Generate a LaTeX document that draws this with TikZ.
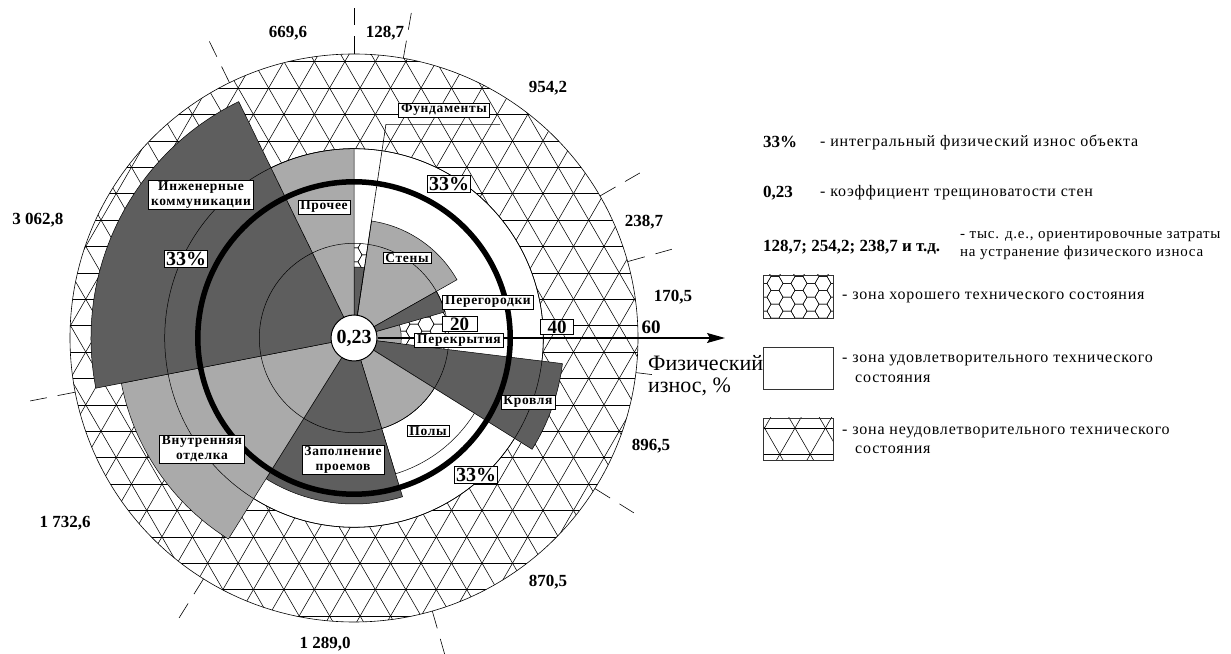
\documentclass[tikz,border=0pt]{standalone}
\usepackage{fontspec}
\setmainfont{Liberation Serif}
\usetikzlibrary{arrows.meta}
\definecolor{darkfill}{RGB}{94,94,94}
\definecolor{lightfill}{RGB}{170,170,170}
\newcommand{\lblfont}{\fontsize{13.5}{15}\selectfont\bfseries\addfontfeature{LetterSpace=5}}
\newcommand{\costfont}{\fontsize{17}{18}\selectfont\bfseries}
\newcommand{\legfont}{\fontsize{16}{18}\selectfont\addfontfeature{LetterSpace=5}}
\newcommand{\legsfont}{\fontsize{15}{18}\selectfont\addfontfeature{LetterSpace=5}}
\newcommand{\legbfont}{\fontsize{17}{18}\selectfont\bfseries}
\newcommand{\pctfont}{\fontsize{20}{22}\selectfont\bfseries}
\newcommand{\axnumfont}{\fontsize{19}{20}\selectfont\bfseries}
\newcommand{\axfont}{\fontsize{22}{22}\selectfont}
\newcommand{\drawsector}[4]{%
  \filldraw[sect, fill=#1] (0,0) -- (#2:#4) arc[start angle=#2, end angle=#3, radius=#4] -- cycle;}
\newcommand{\hexgrid}[4]{%
  \foreach \i in {#1,...,#2}{\foreach \j in {#3,...,#4}{%
    \pgfmathsetmacro\hx{12*\i}\pgfmathsetmacro\hy{13.856*(\j+0.5*mod(\i,2))}%
    \draw[hexline,shift={(\hx,\hy)}] (8,0)--(4,6.928)--(-4,6.928)--(-8,0)--(-4,-6.928)--(4,-6.928)--cycle;}}}
\newcommand{\trihatch}[5]{%
  \foreach \t in {0,60,120}{\begin{scope}[shift={(#1,#2)},rotate=\t]
    \foreach \k in {#3,...,#4}{\draw[hatchline] (-#5,\k*26.4) -- (#5,\k*26.4);}
  \end{scope}}}
\tikzset{
  lbl/.style={draw, fill=white, line width=0.6pt, inner xsep=2.5pt, inner ysep=1pt, font=\lblfont, align=center},
  pct/.style={draw, fill=white, line width=0.8pt, inner sep=1.5pt, font=\pctfont},
  axbox/.style={draw, fill=white, line width=0.7pt, inner sep=0pt, minimum height=15pt, font=\axnumfont},
  cost/.style={font=\costfont, inner sep=0pt},
  sect/.style={draw=black, line width=0.5pt},
  hatchline/.style={line width=0.55pt, black},
  hexline/.style={line width=0.45pt, black},
  tickline/.style={line width=0.6pt, dash pattern=on 18pt off 11pt on 17pt off 200pt},
  gridc/.style={line width=0.5pt},
  legtext/.style={anchor=west, inner sep=0pt, font=\legfont, align=left},
  legnum/.style={anchor=west, inner sep=0pt, font=\legbfont},
  legbox/.style={line width=0.8pt, draw=black!80}
}
\begin{document}
\begin{tikzpicture}[x=1pt,y=1pt]
\useasboundingbox (0,0) rectangle (1231,653);
\fill[white] (0,0) rectangle (1231,653);
\begin{scope}[shift={(354,315)}]
  % zones
  \fill[white] (0,0) circle[radius=284];
  \begin{scope}
    \clip (0,0) circle[radius=284];
    \trihatch{189}{-14}{-19}{19}{520}
  \end{scope}
  \draw[line width=0.6pt] (0,0) circle[radius=284];
  \filldraw[fill=white, line width=0.6pt] (0,0) circle[radius=189.3];
  \begin{scope}
    \clip (0,0) circle[radius=94.7];
    \hexgrid{-9}{9}{-8}{8}
  \end{scope}
  % sectors
  \drawsector{darkfill}{81.5}{90}{71}
  \drawsector{lightfill}{29.5}{81.5}{118.3}
  \drawsector{darkfill}{16}{29.5}{94.7}
  \drawsector{lightfill}{-7}{16}{47.3}
  \drawsector{darkfill}{-32}{-7}{210}
  \drawsector{white}{-73}{-32}{142}
  \drawsector{lightfill}{-73}{-32}{94.7}
  \drawsector{darkfill}{-122}{-73}{166}
  \drawsector{lightfill}{-169}{-122}{237}
  \drawsector{darkfill}{116}{191}{263}
  \drawsector{lightfill}{90}{116}{189.3}
  % grid circles
  \draw[gridc] (0,0) circle[radius=94.7];
  \draw[gridc] (0,0) circle[radius=189.3];
  \draw[line width=5.5pt] (0,0) circle[radius=156.2];
  % ticks
  \foreach \a in {80,90,116,191,238,286,328,15.6,30}{\draw[tickline] (\a:284) -- (\a:332);}
  \draw[line width=0.6pt] (353:284) -- (353:300);
  % centre and axis
  \node[circle, draw, fill=white, line width=1pt, minimum size=46pt, inner sep=0pt, font=\pctfont] (c) at (0,0) {0,23};
  \coordinate (axend) at (371,0);
  \draw[line width=1.2pt, -{Stealth[length=18pt,width=10pt,inset=3pt]}] (c.east) -- (axend);
  % foundation leader
  \coordinate (fa) at (81.5:216);
  \coordinate (fe) at (146,0);
  \draw[line width=0.6pt] (c) -- (fa) -- (fa -| fe);
\end{scope}
% sector labels
\node[lbl] (fund) at (444,543) {Фундаменты};
\node[lbl] (sten) at (407,395) {Стены};
\node[lbl] (pereg) at (488,351) {Перегородки};
\node[lbl] (perekr) at (459,312.5) {Перекрытия};
\node[axbox, minimum width=35pt] (a20) at (459.5,328.8) {20};
\node[axbox, minimum width=33pt] (a40) at (557,326) {40};
\node[inner sep=0pt, font=\axnumfont] (a60) at (651,326) {60};
\node[lbl] (krov) at (528,251) {Кровля};
\node[lbl] (poly) at (428,222) {Полы};
\node[lbl] (zapol) at (343,193) {Заполнение\\проемов};
\node[lbl] (vnutr) at (202,204) {Внутренняя\\отделка};
\node[lbl] (inzh) at (201,458) {Инженерные\\коммуникации};
\node[lbl] (proch) at (324,446) {Прочее};
\node[pct] (p1) at (186,394) {33\%};
\node[pct] (p2) at (449,469) {33\%};
\node[pct] (p3) at (476,178) {33\%};
\node[anchor=west, inner sep=0pt, font=\axfont, align=left] (axlab) at (648,277) {Физический\\износ, \%};
% cost labels
\node[cost] (k1) at (288,620) {669,6};
\node[cost] (k2) at (385,620) {128,7};
\node[cost] (k3) at (548,565) {954,2};
\node[cost] (k4) at (644,431) {238,7};
\node[cost] (k5) at (673,356) {170,5};
\node[cost] (k6) at (651,207) {896,5};
\node[cost] (k7) at (548,71) {870,5};
\node[cost] (k8) at (325,9) {1 289,0};
\node[cost] (k9) at (65,130) {1 732,6};
\node[cost] (k10) at (38,433) {3 062,8};
% legend
\node[legnum] (ln1) at (763,511) {33\%};
\node[legtext] (lt1) at (820,511) {- интегральный физический износ объекта};
\node[legnum] (ln2) at (763,460) {0,23};
\node[legtext] (lt2) at (820,460) {- коэффициент трещиноватости стен};
\node[legnum] (ln3) at (763,406) {128,7; 254,2; 238,7 и т.д.};
\node[legtext, font=\legsfont] (lt3) at (960,407) {- тыс. д.е., ориентировочные затраты\\на устранение физического износа};
\begin{scope}[shift={(763,335)}]
  \begin{scope}
    \clip (0,0) rectangle (70,43);
    \hexgrid{0}{6}{-1}{3}
  \end{scope}
  \draw[legbox] (0,0) rectangle (70,43);
\end{scope}
\node[legtext] (lt4) at (842,356) {- зона хорошего технического состояния};
\draw[legbox] (763,264) rectangle (833,306);
\node[legtext] (lt5) at (842,293) {- зона удовлетворительного технического};
\node[legtext] (lt5b) at (855,274) {состояния};
\begin{scope}
  \clip (763,193) rectangle (833,235);
  \trihatch{795}{225}{-3}{3}{80}
\end{scope}
\draw[legbox] (763,193) rectangle (833,235);
\node[legtext] (lt6) at (842,221) {- зона неудовлетворительного технического};
\node[legtext] (lt6b) at (855,203) {состояния};
\end{tikzpicture}
\end{document}
